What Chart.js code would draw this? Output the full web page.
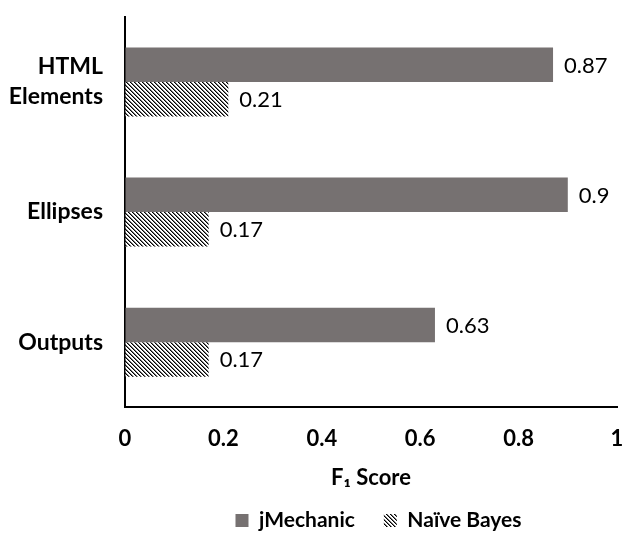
<!DOCTYPE html>
<html>
<head>
<meta charset="utf-8">
<script src="https://cdn.jsdelivr.net/npm/chart.js@4"></script>
<style>
  html, body { margin: 0; padding: 0; background: #fff; }
  #wrap { width: 626px; height: 536px; }
</style>
</head>
<body>
<div id="wrap"><canvas id="f1Chart"></canvas></div>
<script>
const categories = [['HTML', 'Elements'], 'Ellipses', 'Outputs'];
const jMechanic = [0.87, 0.9, 0.63];
const naiveBayes = [0.21, 0.17, 0.17];
const xTicks = [0, 0.2, 0.4, 0.6, 0.8, 1];

const FONT = "Lato, 'Open Sans', sans-serif";

// diagonal hatch used for the Naive Bayes bars
function makeHatch() {
  const c = document.createElement('canvas');
  c.width = 4; c.height = 4;
  const g = c.getContext('2d');
  g.fillStyle = '#fff';
  g.fillRect(0, 0, 4, 4);
  for (let i = 0; i < 4; i++) {
    g.fillStyle = '#000';
    g.fillRect(i, i, 1, 1);
    g.fillStyle = '#777';
    g.fillRect((i + 1) % 4, i, 1, 1);
  }
  return g.createPattern(c, 'repeat');
}

// value labels at the end of each bar
const valueLabels = {
  id: 'valueLabels',
  afterDatasetsDraw(chart) {
    const ctx = chart.ctx;
    ctx.save();
    ctx.font = "22px " + FONT;
    ctx.fillStyle = '#000';
    ctx.textAlign = 'left';
    ctx.textBaseline = 'middle';
    chart.data.datasets.forEach((ds, di) => {
      chart.getDatasetMeta(di).data.forEach((bar, i) => {
        ctx.fillText(String(ds.data[i]), bar.x + 11, bar.y + 1);
      });
    });
    ctx.restore();
  }
};

// legend sits a bit right of the canvas centre, under the plot
const legendShift = {
  id: 'legendShift',
  afterLayout(chart) {
    if (!chart.legend) return;
    chart.legend.left += 70;
    chart.legend.right += 70;
  }
};

const hatch = makeHatch();

// invisible tick marks, used only to push the labels away from the axis
const hiddenTicks = (len) => ({
  display: true,
  drawOnChartArea: false,
  drawTicks: true,
  tickLength: len,
  tickColor: 'rgba(0,0,0,0)'
});

new Chart(document.getElementById('f1Chart'), {
  type: 'bar',
  data: {
    labels: categories,
    datasets: [
      {
        label: 'jMechanic',
        data: jMechanic,
        backgroundColor: '#767171',
        borderWidth: 0
      },
      {
        label: 'Naïve Bayes',
        data: naiveBayes,
        backgroundColor: hatch,
        borderWidth: 0
      }
    ]
  },
  options: {
    indexAxis: 'y',
    responsive: true,
    maintainAspectRatio: false,
    animation: false,
    categoryPercentage: 0.53,
    barPercentage: 1,
    layout: { padding: { left: 0, right: 9, top: 10, bottom: -5 } },
    plugins: {
      tooltip: { enabled: false },
      legend: {
        position: 'bottom',
        labels: {
          color: '#000',
          font: { family: FONT, size: 21, weight: 'bold' },
          boxWidth: 13,
          boxHeight: 13,
          padding: 29
        }
      }
    },
    scales: {
      x: {
        min: 0,
        max: 1,
        afterBuildTicks(axis) {
          axis.ticks = xTicks.map(v => ({ value: v }));
        },
        grid: hiddenTicks(17),
        border: { display: true, color: '#000', width: 2 },
        ticks: {
          color: '#000',
          padding: 2,
          font: { family: FONT, size: 22, weight: 'bold' },
          callback: v => String(v)
        },
        title: {
          display: true,
          text: 'F\u2081 Score',
          color: '#000',
          padding: { top: 10, bottom: -10 },
          font: { family: FONT, size: 22, weight: 'bold' }
        }
      },
      y: {
        afterFit(axis) { axis.width = 125; },
        grid: hiddenTicks(20),
        border: { display: true, color: '#000', width: 2 },
        ticks: {
          color: '#000',
          padding: 2,
          font: { family: FONT, size: 23, weight: 'bold', lineHeight: 1.3 }
        }
      }
    }
  },
  plugins: [valueLabels, legendShift]
});
</script>
</body>
</html>
